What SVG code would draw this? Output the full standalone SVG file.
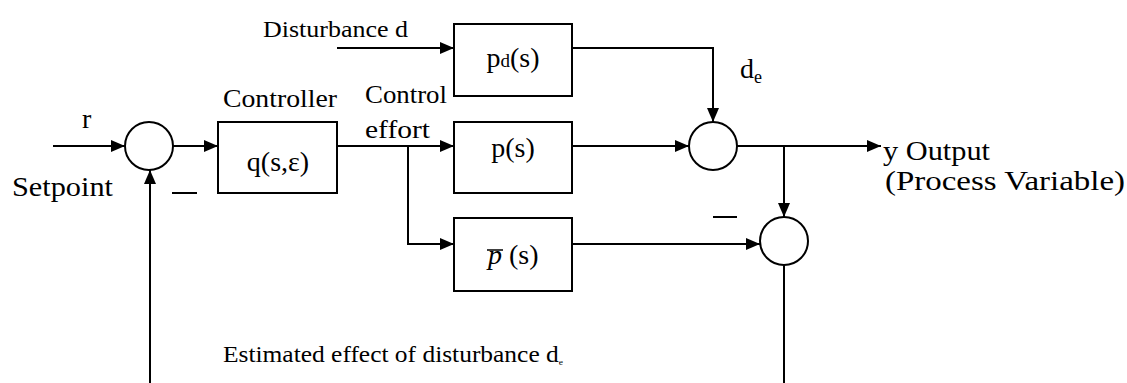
<svg xmlns="http://www.w3.org/2000/svg" width="1127" height="383" viewBox="0 0 1127 383">
  <defs>
    <marker id="arrow" viewBox="0 0 14 12" refX="14" refY="6" markerWidth="14" markerHeight="12" markerUnits="userSpaceOnUse" orient="auto">
      <path d="M0,0 L14,6 L0,12 z" fill="#000"/>
    </marker>
    <style>
      .blk { fill: #fff; stroke: #000; stroke-width: 2; }
      .sum { fill: #fff; stroke: #000; stroke-width: 2; }
      .wire { fill: none; stroke: #000; stroke-width: 2; }
      .arr { marker-end: url(#arrow); }
      .t { font-family: 'Liberation Serif', 'Times New Roman', 'DejaVu Serif', Times, serif; fill: #000; }
      .lbl { font-size: 28px; }
      .mid { font-size: 26px; }
      .sm { font-size: 24px; }
      .fn { font-size: 28px; text-anchor: middle; }
    </style>
  </defs>
  <rect width="1127" height="383" fill="#fff"/>

  <!-- signal lines -->
  <g id="connectors">
    <line class="wire arr" x1="53" y1="146" x2="125" y2="146"/>
    <line class="wire arr" x1="173" y1="146" x2="218" y2="146"/>
    <line class="wire arr" x1="337" y1="146" x2="454" y2="146"/>
    <polyline class="wire arr" points="408,146 408,244 454,244"/>
    <line class="wire arr" x1="337" y1="48" x2="454" y2="48"/>
    <polyline class="wire arr" points="572,48 713,48 713,122"/>
    <line class="wire arr" x1="572" y1="146" x2="689" y2="146"/>
    <line class="wire arr" x1="737" y1="146" x2="881" y2="146"/>
    <line class="wire arr" x1="784" y1="146" x2="784" y2="217"/>
    <line class="wire arr" x1="572" y1="244" x2="760" y2="244"/>
    <line class="wire" x1="784" y1="265" x2="784" y2="383"/>
    <line class="wire arr" x1="150" y1="383" x2="150" y2="170"/>
    <!-- minus signs at the summing inputs -->
    <line class="wire" x1="172" y1="193" x2="197" y2="193"/>
    <line class="wire" x1="713" y1="217" x2="737" y2="217"/>
  </g>

  <g id="sum-error">
    <circle class="sum" cx="149" cy="146" r="24"/>
  </g>
  <g id="controller">
    <rect class="blk" x="218" y="122" width="119" height="71"/>
    <text class="t fn" x="278" y="171">q(s,ε)</text>
  </g>
  <g id="disturbance-model">
    <rect class="blk" x="454" y="24" width="118" height="72"/>
    <text class="t fn" x="513" y="67">p<tspan font-size="19">d</tspan>(s)</text>
  </g>
  <g id="process">
    <rect class="blk" x="454" y="122" width="118" height="71"/>
    <text class="t fn" x="513" y="157">p(s)</text>
  </g>
  <g id="process-model">
    <rect class="blk" x="454" y="218" width="118" height="73"/>
    <text class="t" x="488" y="264" font-size="28"><tspan font-style="italic">p</tspan> (s)</text>
    <line x1="487" y1="250" x2="503" y2="250" stroke="#000" stroke-width="1.5"/>
  </g>
  <g id="sum-output">
    <circle class="sum" cx="713" cy="146" r="24"/>
  </g>
  <g id="sum-estimate">
    <circle class="sum" cx="784" cy="241" r="24"/>
  </g>

  <g id="labels">
    <text class="t sm" x="263" y="37" textLength="145" lengthAdjust="spacingAndGlyphs">Disturbance d</text>
    <text class="t lbl" x="82" y="128">r</text>
    <text class="t lbl" x="12" y="196" textLength="101" lengthAdjust="spacingAndGlyphs">Setpoint</text>
    <text class="t mid" x="223" y="107" textLength="114" lengthAdjust="spacingAndGlyphs">Controller</text>
    <text class="t mid" x="365" y="103" textLength="82" lengthAdjust="spacingAndGlyphs">Control</text>
    <text class="t mid" x="365" y="138" textLength="65" lengthAdjust="spacingAndGlyphs">effort</text>
    <text class="t lbl" x="740" y="78">d<tspan font-size="18" dy="5">e</tspan></text>
    <text class="t lbl" x="883" y="160" textLength="107" lengthAdjust="spacingAndGlyphs">y Output</text>
    <text class="t lbl" x="885" y="190" textLength="240" lengthAdjust="spacingAndGlyphs">(Process Variable)</text>
    <text class="t sm" x="223" y="362" textLength="340" lengthAdjust="spacingAndGlyphs">Estimated effect of disturbance d<tspan font-size="9" dy="3">e</tspan></text>
  </g>
</svg>
